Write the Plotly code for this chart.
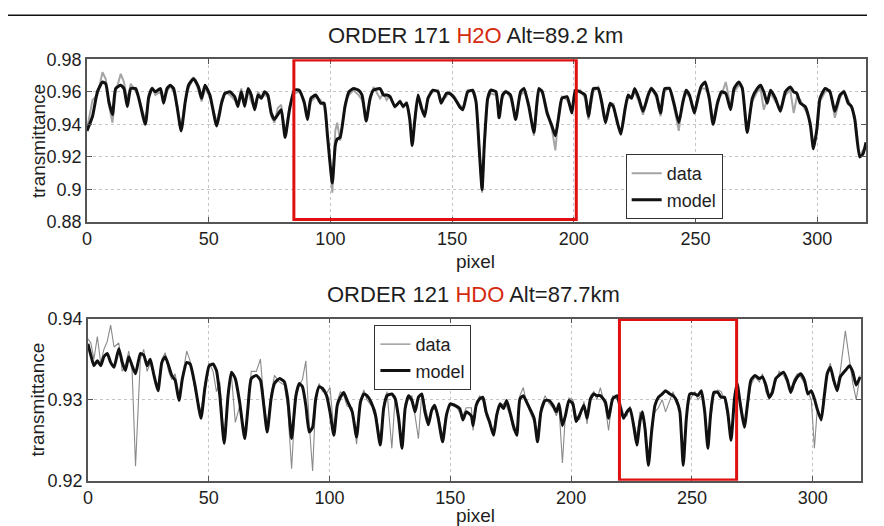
import plotly.graph_objects as go

# ---------------- top panel: ORDER 171 H2O ----------------
top_pixel = [
    0, 2.3, 4.3, 6.4, 7.7, 9, 10.5, 11.8, 13.9, 15.2,
    16.6, 18, 20, 21.3, 24, 25.4, 26.8, 28.1, 30.2, 31.5,
    32.9, 34.2, 35.6, 37, 38.7, 40.4, 41.7, 43.8, 45.8, 47.1,
    48.5, 50.5, 53.3, 55.3, 56.7, 58.7, 60.7, 62, 63.4, 64.8,
    66.2, 67.5, 68.9, 70.3, 71.6, 73, 74.3, 75.7, 77, 78.4,
    79.8, 81.4, 83.2, 85.2, 87.2, 89.3, 90.6, 92, 94, 96,
    97.4, 98.8, 100.8, 102, 102.8, 104, 106, 107.6, 109.5, 111.6,
    113, 114.7, 116.3, 117.7, 120.4, 121.8, 123.1, 124.5, 126.5, 128.6,
    129.9, 131.3, 132.6, 133.6, 134.7, 136, 137.4, 138.7, 140.1, 142.1,
    144.2, 145.5, 147.6, 148.9, 151, 153, 154.4, 156.4, 158.4, 159.8,
    161.2, 162.3, 163.2, 164.6, 165.9, 168, 169.3, 170.7, 172, 174,
    176.1, 178.1, 179.5, 181.5, 183.6, 185.6, 187, 189, 191, 192.4,
    193.8, 195.1, 197.2, 199.2, 200.6, 202.6, 204.6, 206, 208, 210,
    211.5, 213, 214.9, 216.2, 217.6, 219.3, 221, 222.3, 223.7, 225,
    226.7, 228.4, 230.5, 231.8, 233.9, 235.6, 237.3, 239.3, 241.1, 243.1,
    244.7, 246.1, 247.5, 249.5, 250.9, 252.2, 253.9, 255.6, 257.2, 259,
    260.6, 262.4, 264.4, 265.8, 267.8, 269.2, 271.2, 273.3, 275.3, 276.7,
    278, 279.4, 280.8, 282.8, 284.8, 286.9, 288.9, 290.3, 291.6, 293,
    295, 297.1, 298.4, 299.8, 301.1, 303.2, 305.2, 307.2, 309.3, 310.9,
    312.7, 314, 315.4, 317.4, 318.8, 320,
]
top_model = [
    0.936, 0.945, 0.960, 0.966, 0.965, 0.954, 0.946, 0.962, 0.964, 0.962,
    0.951, 0.962, 0.962, 0.956, 0.940, 0.957, 0.962, 0.960, 0.962, 0.953,
    0.962, 0.964, 0.962, 0.951, 0.936, 0.954, 0.964, 0.968, 0.963, 0.956,
    0.964, 0.958, 0.939, 0.953, 0.959, 0.960, 0.957, 0.951, 0.960, 0.951,
    0.962, 0.958, 0.949, 0.958, 0.956, 0.960, 0.958, 0.947, 0.943, 0.946,
    0.949, 0.932, 0.949, 0.961, 0.961, 0.953, 0.943, 0.956, 0.958, 0.953,
    0.953, 0.933, 0.904, 0.927, 0.931, 0.932, 0.951, 0.960, 0.962, 0.961,
    0.958, 0.942, 0.956, 0.961, 0.962, 0.958, 0.958, 0.957, 0.951, 0.954,
    0.951, 0.953, 0.943, 0.927, 0.943, 0.958, 0.950, 0.945, 0.956, 0.961,
    0.960, 0.953, 0.959, 0.959, 0.956, 0.951, 0.949, 0.960, 0.961, 0.954,
    0.923, 0.900, 0.927, 0.956, 0.961, 0.960, 0.944, 0.958, 0.960, 0.958,
    0.943, 0.960, 0.962, 0.951, 0.935, 0.962, 0.960, 0.947, 0.939, 0.933,
    0.945, 0.956, 0.957, 0.947, 0.961, 0.960, 0.958, 0.945, 0.962, 0.962,
    0.953, 0.941, 0.953, 0.951, 0.943, 0.934, 0.949, 0.958, 0.956, 0.962,
    0.956, 0.948, 0.958, 0.962, 0.958, 0.947, 0.962, 0.962, 0.953, 0.941,
    0.953, 0.961, 0.958, 0.947, 0.956, 0.963, 0.966, 0.956, 0.940, 0.953,
    0.960, 0.959, 0.949, 0.962, 0.966, 0.962, 0.935, 0.956, 0.962, 0.964,
    0.960, 0.953, 0.961, 0.956, 0.948, 0.960, 0.963, 0.960, 0.959, 0.953,
    0.951, 0.940, 0.925, 0.937, 0.956, 0.962, 0.960, 0.948, 0.958, 0.960,
    0.953, 0.951, 0.943, 0.920, 0.922, 0.929,
]
top_data = [
    0.937, 0.955, 0.958, 0.972, 0.968, 0.952, 0.941, 0.960, 0.971, 0.966,
    0.955, 0.965, 0.960, 0.957, 0.942, 0.955, 0.963, 0.958, 0.960, 0.955,
    0.960, 0.964, 0.960, 0.953, 0.937, 0.955, 0.962, 0.969, 0.961, 0.954,
    0.962, 0.957, 0.941, 0.955, 0.960, 0.958, 0.955, 0.952, 0.962, 0.953,
    0.960, 0.954, 0.950, 0.960, 0.957, 0.958, 0.957, 0.945, 0.941, 0.950,
    0.952, 0.934, 0.951, 0.959, 0.960, 0.955, 0.944, 0.954, 0.957, 0.955,
    0.951, 0.935, 0.898, 0.936, 0.941, 0.930, 0.953, 0.958, 0.961, 0.958,
    0.955, 0.944, 0.954, 0.963, 0.956, 0.959, 0.955, 0.958, 0.950, 0.955,
    0.950, 0.954, 0.945, 0.928, 0.941, 0.957, 0.952, 0.944, 0.957, 0.960,
    0.961, 0.955, 0.957, 0.960, 0.957, 0.952, 0.950, 0.961, 0.960, 0.955,
    0.925, 0.898, 0.925, 0.955, 0.959, 0.958, 0.946, 0.956, 0.961, 0.956,
    0.944, 0.958, 0.960, 0.953, 0.933, 0.960, 0.961, 0.948, 0.937, 0.924,
    0.947, 0.957, 0.955, 0.949, 0.959, 0.961, 0.956, 0.943, 0.960, 0.963,
    0.955, 0.943, 0.951, 0.953, 0.941, 0.935, 0.951, 0.956, 0.957, 0.960,
    0.954, 0.946, 0.956, 0.963, 0.956, 0.945, 0.960, 0.963, 0.951, 0.936,
    0.955, 0.959, 0.957, 0.949, 0.954, 0.962, 0.962, 0.958, 0.942, 0.955,
    0.958, 0.966, 0.951, 0.960, 0.964, 0.963, 0.937, 0.954, 0.960, 0.962,
    0.949, 0.955, 0.959, 0.954, 0.950, 0.958, 0.961, 0.947, 0.957, 0.955,
    0.949, 0.942, 0.927, 0.935, 0.954, 0.960, 0.961, 0.944, 0.956, 0.961,
    0.955, 0.950, 0.945, 0.921, 0.924, 0.927,
]

# ---------------- bottom panel: ORDER 121 HDO ----------------
bot_pixel = [
    0, 1.2, 2.5, 3.9, 5.3, 6.6, 8, 9.4, 10.8, 12.8,
    14.2, 15.5, 16.9, 18.3, 19.7, 21.7, 23.1, 24.5, 25.8, 27.2,
    29, 30.6, 32, 33.4, 34.7, 36.1, 37.7, 39.1, 40.9, 42.3,
    44.3, 46.8, 48.4, 50.2, 51.8, 53.2, 54.6, 56.4, 58, 59.4,
    61, 62.8, 64.9, 66.2, 67.6, 69.7, 71.4, 72.8, 74.2, 75.8,
    77.2, 79.2, 81.3, 82.7, 84.3, 86.1, 87.5, 88.8, 90.2, 91.6,
    93, 94.3, 95.7, 97.1, 98.8, 100.2, 101.8, 103.2, 104.5, 105.9,
    107.3, 109.4, 111.2, 112.8, 114.2, 115.5, 117.2, 119, 121, 122.4,
    123.8, 125.8, 127.2, 128.6, 130, 131.3, 132.7, 134.1, 135.4, 136.8,
    138.2, 139.5, 140.9, 142.3, 143.6, 145, 146.8, 148.4, 150, 151.8,
    153.9, 155.2, 156.6, 158.7, 159.4, 160.7, 162.1, 163.5, 164.8, 166.2,
    167.9, 169.2, 170.6, 172, 173.3, 174.7, 176.1, 177.5, 178.8, 180.2,
    181.6, 182.9, 184.7, 186.1, 187.5, 189.2, 190.9, 192.5, 193.9, 195,
    196.4, 197.7, 199.1, 200.7, 202.1, 203.5, 205.3, 206.6, 208, 209.4,
    210.7, 212.1, 214.2, 215.5, 217.2, 219, 220.3, 221.7, 223.1, 224.4,
    226.1, 227.2, 228.5, 229.5, 230.6, 232, 233.3, 234.7, 236.1, 237.7,
    239.1, 240.9, 242.2, 243.6, 245, 246.4, 247.7, 249.1, 251.2, 252.5,
    253.9, 255.3, 256.6, 257.7, 259.1, 260.7, 262.1, 263.5, 264.8, 266.2,
    267.6, 268.7, 270.1, 271.7, 273.1, 274.4, 276.1, 277.9, 279.2, 280.6,
    282, 283.3, 284.7, 286.1, 287.9, 289.5, 290.9, 292.2, 293.6, 295,
    296.6, 298, 299.4, 300.7, 301.8, 303.5, 304.8, 306, 307.3, 308.7,
    310.1, 311.4, 313.5, 315.3, 316.6, 318, 319.6,
]
bot_model = [
    0.9369, 0.9355, 0.9342, 0.9348, 0.9342, 0.9353, 0.9357, 0.9346, 0.9340, 0.9363,
    0.9346, 0.9336, 0.9353, 0.9342, 0.9332, 0.9357, 0.9355, 0.9342, 0.9350, 0.9332,
    0.9311, 0.9346, 0.9353, 0.9342, 0.9330, 0.9324, 0.9299, 0.9326, 0.9346, 0.9344,
    0.9318, 0.9277, 0.9314, 0.9342, 0.9344, 0.9336, 0.9305, 0.9246, 0.9305, 0.9334,
    0.9326, 0.9297, 0.9252, 0.9289, 0.9326, 0.9330, 0.9324, 0.9293, 0.9260, 0.9301,
    0.9320, 0.9326, 0.9322, 0.9301, 0.9252, 0.9305, 0.9320, 0.9316, 0.9293, 0.9260,
    0.9266, 0.9301, 0.9316, 0.9314, 0.9305, 0.9285, 0.9256, 0.9293, 0.9303, 0.9309,
    0.9299, 0.9285, 0.9254, 0.9297, 0.9307, 0.9305, 0.9297, 0.9281, 0.9244, 0.9289,
    0.9305, 0.9307, 0.9301, 0.9277, 0.9240, 0.9289, 0.9305, 0.9299, 0.9285, 0.9303,
    0.9307, 0.9285, 0.9269, 0.9287, 0.9293, 0.9277, 0.9248, 0.9281, 0.9295, 0.9293,
    0.9289, 0.9275, 0.9285, 0.9280, 0.9268, 0.9293, 0.9301, 0.9303, 0.9285, 0.9273,
    0.9256, 0.9281, 0.9295, 0.9289, 0.9299, 0.9285, 0.9268, 0.9256, 0.9301, 0.9305,
    0.9297, 0.9289, 0.9277, 0.9248, 0.9285, 0.9299, 0.9299, 0.9293, 0.9285, 0.9295,
    0.9268, 0.9281, 0.9299, 0.9295, 0.9273, 0.9281, 0.9293, 0.9277, 0.9301, 0.9307,
    0.9305, 0.9305, 0.9297, 0.9277, 0.9301, 0.9305, 0.9291, 0.9277, 0.9285, 0.9289,
    0.9264, 0.9244, 0.9273, 0.9285, 0.9264, 0.9219, 0.9260, 0.9293, 0.9303, 0.9307,
    0.9311, 0.9307, 0.9305, 0.9299, 0.9285, 0.9219, 0.9277, 0.9307, 0.9307, 0.9305,
    0.9311, 0.9285, 0.9240, 0.9281, 0.9309, 0.9309, 0.9303, 0.9303, 0.9285, 0.9250,
    0.9301, 0.9320, 0.9293, 0.9266, 0.9297, 0.9324, 0.9330, 0.9326, 0.9328, 0.9318,
    0.9303, 0.9309, 0.9326, 0.9330, 0.9334, 0.9324, 0.9309, 0.9320, 0.9328, 0.9332,
    0.9324, 0.9307, 0.9311, 0.9301, 0.9289, 0.9275, 0.9305, 0.9332, 0.9340, 0.9324,
    0.9311, 0.9328, 0.9336, 0.9342, 0.9334, 0.9318, 0.9328,
]
bot_data = [
    0.9375, 0.9370, 0.9350, 0.9378, 0.9345, 0.9362, 0.9372, 0.9392, 0.9365, 0.9370,
    0.9335, 0.9342, 0.9360, 0.9335, 0.9218, 0.9350, 0.9362, 0.9335, 0.9345, 0.9330,
    0.9318, 0.9350, 0.9358, 0.9335, 0.9325, 0.9332, 0.9305, 0.9330, 0.9360, 0.9348,
    0.9312, 0.9285, 0.9320, 0.9345, 0.9335, 0.9310, 0.9322, 0.9248, 0.9312, 0.9330,
    0.9272, 0.9292, 0.9258, 0.9282, 0.9335, 0.9335, 0.9350, 0.9300, 0.9268, 0.9305,
    0.9330, 0.9322, 0.9318, 0.9290, 0.9215, 0.9310, 0.9318, 0.9325, 0.9348, 0.9270,
    0.9212, 0.9300, 0.9320, 0.9310, 0.9308, 0.9315, 0.9262, 0.9298, 0.9310, 0.9305,
    0.9292, 0.9290, 0.9245, 0.9300, 0.9312, 0.9300, 0.9293, 0.9288, 0.9250, 0.9295,
    0.9310, 0.9240, 0.9305, 0.9282, 0.9245, 0.9295, 0.9300, 0.9305, 0.9280, 0.9252,
    0.9308, 0.9290, 0.9275, 0.9290, 0.9288, 0.9282, 0.9255, 0.9285, 0.9292, 0.9295,
    0.9284, 0.9280, 0.9290, 0.9290, 0.9262, 0.9290, 0.9305, 0.9298, 0.9280, 0.9270,
    0.9262, 0.9285, 0.9292, 0.9295, 0.9292, 0.9280, 0.9262, 0.9262, 0.9305, 0.9315,
    0.9295, 0.9285, 0.9272, 0.9258, 0.9290, 0.9305, 0.9295, 0.9290, 0.9280, 0.9290,
    0.9222, 0.9285, 0.9302, 0.9300, 0.9280, 0.9275, 0.9298, 0.9270, 0.9305, 0.9310,
    0.9300, 0.9315, 0.9290, 0.9262, 0.9305, 0.9300, 0.9298, 0.9282, 0.9280, 0.9292,
    0.9270, 0.9255, 0.9285, 0.9280, 0.9270, 0.9228, 0.9270, 0.9285, 0.9290, 0.9300,
    0.9285, 0.9300, 0.9310, 0.9295, 0.9290, 0.9225, 0.9280, 0.9300, 0.9310, 0.9300,
    0.9305, 0.9290, 0.9245, 0.9275, 0.9305, 0.9312, 0.9310, 0.9300, 0.9280, 0.9255,
    0.9295, 0.9315, 0.9298, 0.9272, 0.9290, 0.9318, 0.9328, 0.9322, 0.9332, 0.9310,
    0.9300, 0.9315, 0.9322, 0.9335, 0.9330, 0.9320, 0.9312, 0.9325, 0.9332, 0.9328,
    0.9320, 0.9310, 0.9300, 0.9240, 0.9285, 0.9280, 0.9310, 0.9335, 0.9345, 0.9320,
    0.9315, 0.9335, 0.9385, 0.9350, 0.9320, 0.9300, 0.9330,
]

assert len(top_pixel) == len(top_model) == len(top_data)
assert len(bot_pixel) == len(bot_model) == len(bot_data)

# highlighted windows (pixel ranges)
top_box = [85, 201]
bot_box = [220, 268.5]

x_ticks = [0, 50, 100, 150, 200, 250, 300]
top_y_ticks = [0.88, 0.9, 0.92, 0.94, 0.96, 0.98]
bot_y_ticks = [0.92, 0.93, 0.94]

FONT = "Liberation Sans, Arial, Helvetica, sans-serif"
OFF = 8                     # page body margin
OFF_X = 2                   # observed horizontal placement offset
VS = 546 / 526              # observed vertical squeeze of the photographed page
W, H = 884 - 2 * OFF, 530
TXT = "#1e1e1e"

fig = go.Figure()
fig.add_trace(go.Scatter(x=top_pixel, y=top_data, mode="lines", name="data",
                         line=dict(color="#a5a5a5", width=2), xaxis="x", yaxis="y",
                         legend="legend"))
fig.add_trace(go.Scatter(x=top_pixel, y=top_model, mode="lines", name="model",
                         line=dict(color="#111111", width=3, shape="spline", smoothing=0.5),
                         xaxis="x", yaxis="y", legend="legend"))
fig.add_trace(go.Scatter(x=bot_pixel, y=bot_data, mode="lines", name="data",
                         line=dict(color="#8a8a8a", width=1.1), xaxis="x2", yaxis="y2",
                         legend="legend2"))
fig.add_trace(go.Scatter(x=bot_pixel, y=bot_model, mode="lines", name="model",
                         line=dict(color="#111111", width=3, shape="spline", smoothing=0.5),
                         xaxis="x2", yaxis="y2", legend="legend2"))

axis_common = dict(
    showline=True, linecolor="#555555", linewidth=1.5, mirror="ticks",
    ticks="inside", ticklen=5, tickcolor="#555555",
    showgrid=True, gridcolor="#c4c4c4", griddash="dot", gridwidth=1,
    zeroline=False, tickfont=dict(family=FONT, size=18, color=TXT),
)

def fx(px):
    return min(1.0, (px - OFF_X) / W)

def fy(py):
    return 1 - (py * VS - OFF) / H

legend_common = dict(xanchor="left", yanchor="top", bgcolor="white",
                     bordercolor="#333333", borderwidth=1,
                     font=dict(family=FONT, size=18, color=TXT),
                     itemwidth=30, tracegroupgap=0)

fig.update_layout(
    width=W, height=H,
    margin=dict(l=0, r=0, t=0, b=0),
    paper_bgcolor="white", plot_bgcolor="white",
    font=dict(family=FONT, color=TXT),
    xaxis=dict(domain=[fx(84.5), fx(869)], range=[0, 320], tickvals=x_ticks,
               anchor="y", **axis_common),
    yaxis=dict(domain=[fy(220), fy(57)], range=[0.88, 0.98], tickvals=top_y_ticks,
               anchor="x", **axis_common),
    xaxis2=dict(domain=[fx(85.5), fx(864)], range=[0, 320], tickvals=x_ticks,
                anchor="y2", **axis_common),
    yaxis2=dict(domain=[fy(479), fy(316.7)], range=[0.92, 0.94], tickvals=bot_y_ticks,
                anchor="x2", **axis_common),
    legend=dict(x=fx(627), y=fy(152), **legend_common),
    legend2=dict(x=fx(374), y=fy(323), **legend_common),
    showlegend=True,
)

red = "#e01010"
fig.add_shape(type="rect", xref="x", yref="y", x0=top_box[0], x1=top_box[1],
              y0=0.8815, y1=0.9795, line=dict(color=red, width=3))
fig.add_shape(type="rect", xref="x2", yref="y2", x0=bot_box[0], x1=bot_box[1],
              y0=0.9201, y1=0.9399, line=dict(color=red, width=3))
# rule at the top of the page
fig.add_shape(type="line", xref="paper", yref="paper", x0=fx(5), x1=1,
              y0=fy(13), y1=fy(13), line=dict(color="#111111", width=1.5))

ann = []
ann.append(dict(text="ORDER 171 <span style='color:#d42a10'>H2O</span> Alt=89.2 km",
                x=fx(476), y=fy(33), xref="paper", yref="paper", showarrow=False,
                font=dict(family=FONT, size=22, color=TXT),
                xanchor="center", yanchor="middle"))
ann.append(dict(text="ORDER 121 <span style='color:#d42a10'>HDO</span> Alt=87.7km",
                x=fx(474), y=fy(293), xref="paper", yref="paper", showarrow=False,
                font=dict(family=FONT, size=22, color=TXT),
                xanchor="center", yanchor="middle"))
for yc in (139, 398):
    ann.append(dict(text="transmittance", x=fx(35), y=fy(yc), xref="paper",
                    yref="paper", showarrow=False, textangle=-90,
                    font=dict(family=FONT, size=19, color=TXT),
                    xanchor="center", yanchor="middle"))
for yc in (259, 514):
    ann.append(dict(text="pixel", x=fx(476), y=fy(yc), xref="paper",
                    yref="paper", showarrow=False,
                    font=dict(family=FONT, size=19, color=TXT),
                    xanchor="center", yanchor="middle"))
fig.update_layout(annotations=ann)

fig.write_html("out.html")
